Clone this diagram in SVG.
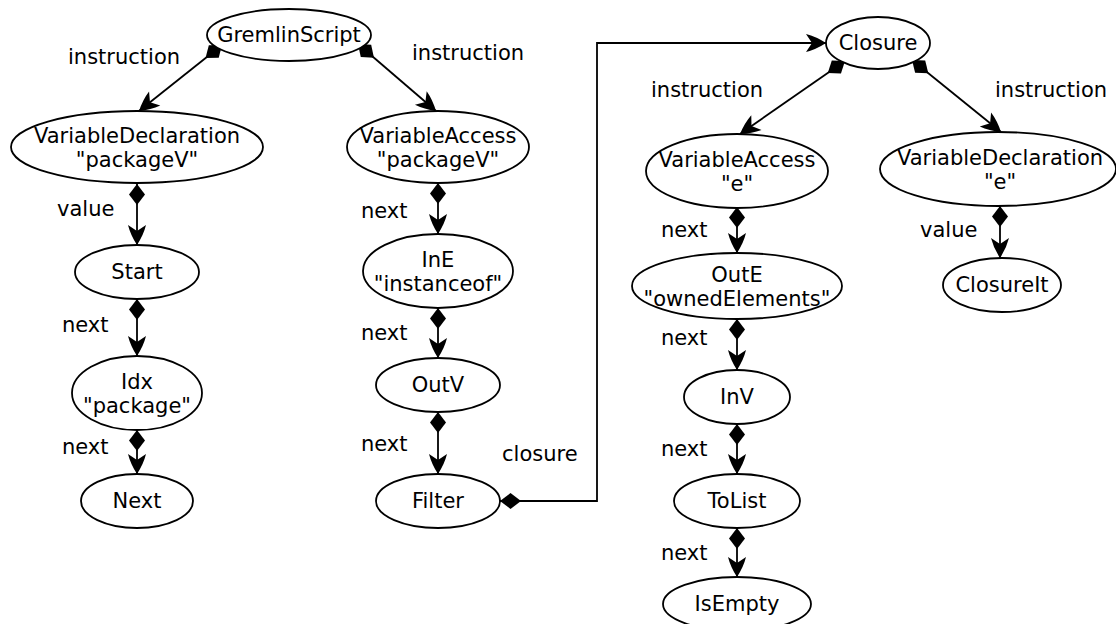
<svg xmlns="http://www.w3.org/2000/svg" width="1116" height="624" viewBox="0 0 1116 624">
<style>
  .node ellipse { fill: #ffffff; stroke: #000000; stroke-width: 1.8; }
  .node text, .lbl { font-family: "DejaVu Sans", Verdana, sans-serif; font-size: 21px; fill: #000000; }
  .node text { text-anchor: middle; }
  .edge { fill: none; stroke: #000000; stroke-width: 1.8; marker-start: url(#diamond); marker-end: url(#arrow); }
</style>
<defs>
  <marker id="arrow" viewBox="-22 -11 23 22" refX="0" refY="0" markerWidth="23" markerHeight="22" markerUnits="userSpaceOnUse" orient="auto">
    <path d="M0,0 Q-10,-6.5 -20,-9 L-14,0 L-20,9 Q-10,6.5 0,0 Z" fill="#000000"/>
  </marker>
  <marker id="diamond" viewBox="-1 -9 24 18" refX="0" refY="0" markerWidth="24" markerHeight="18" markerUnits="userSpaceOnUse" orient="auto">
    <path d="M0,0 L10.5,-8 L21,0 L10.5,8 Z" fill="#000000"/>
  </marker>
</defs>
<rect width="1116" height="624" fill="#ffffff"/>

<g id="connectors">
  <path class="edge" d="M222,45 L139,111"/>
  <path class="edge" d="M358,44 L436,111"/>
  <path class="edge" d="M137,184 L137,245"/>
  <path class="edge" d="M137,299 L137,356"/>
  <path class="edge" d="M137,430 L137,474"/>
  <path class="edge" d="M438,183 L438,234"/>
  <path class="edge" d="M438,308 L438,358"/>
  <path class="edge" d="M438,412 L438,474"/>
  <path class="edge" d="M500,501 L597,501 L597,43 L826,43"/>
  <path class="edge" d="M845,61 L740,134"/>
  <path class="edge" d="M912,60 L1001,132"/>
  <path class="edge" d="M737,207 L737,253"/>
  <path class="edge" d="M1000,206 L1000,258"/>
  <path class="edge" d="M737,319 L737,370"/>
  <path class="edge" d="M737,424 L737,474"/>
  <path class="edge" d="M737,528 L737,577"/>
</g>

<g id="labels">
  <text class="lbl" x="68" y="64">instruction</text>
  <text class="lbl" x="412" y="60">instruction</text>
  <text class="lbl" x="57" y="216">value</text>
  <text class="lbl" x="62" y="332">next</text>
  <text class="lbl" x="62" y="454">next</text>
  <text class="lbl" x="361" y="218">next</text>
  <text class="lbl" x="361" y="340">next</text>
  <text class="lbl" x="361" y="451">next</text>
  <text class="lbl" x="502" y="461">closure</text>
  <text class="lbl" x="651" y="97">instruction</text>
  <text class="lbl" x="995" y="97">instruction</text>
  <text class="lbl" x="661" y="237">next</text>
  <text class="lbl" x="920" y="237">value</text>
  <text class="lbl" x="661" y="345">next</text>
  <text class="lbl" x="661" y="456">next</text>
  <text class="lbl" x="661" y="560">next</text>
</g>

<g id="n-gremlinscript" class="node">
  <ellipse cx="289" cy="35" rx="82" ry="26"/>
  <text x="289" y="42">GremlinScript</text>
</g>
<g id="n-vardecl-packagev" class="node">
  <ellipse cx="137" cy="147" rx="126" ry="36"/>
  <text x="137" y="143">VariableDeclaration</text>
  <text x="137" y="167">"packageV"</text>
</g>
<g id="n-varaccess-packagev" class="node">
  <ellipse cx="438" cy="147" rx="91" ry="36"/>
  <text x="438" y="143">VariableAccess</text>
  <text x="438" y="167">"packageV"</text>
</g>
<g id="n-start" class="node">
  <ellipse cx="137" cy="272" rx="62" ry="27"/>
  <text x="137" y="279">Start</text>
</g>
<g id="n-idx" class="node">
  <ellipse cx="137" cy="393" rx="65" ry="37"/>
  <text x="137" y="389">Idx</text>
  <text x="137" y="413">"package"</text>
</g>
<g id="n-next" class="node">
  <ellipse cx="137" cy="501" rx="56" ry="27"/>
  <text x="137" y="508">Next</text>
</g>
<g id="n-ine" class="node">
  <ellipse cx="438" cy="271" rx="75" ry="37"/>
  <text x="438" y="267">InE</text>
  <text x="438" y="291">"instanceof"</text>
</g>
<g id="n-outv" class="node">
  <ellipse cx="438" cy="385" rx="62" ry="27"/>
  <text x="438" y="392">OutV</text>
</g>
<g id="n-filter" class="node">
  <ellipse cx="438" cy="501" rx="62" ry="27"/>
  <text x="438" y="508">Filter</text>
</g>
<g id="n-closure" class="node">
  <ellipse cx="878" cy="43" rx="52" ry="26"/>
  <text x="878" y="50">Closure</text>
</g>
<g id="n-varaccess-e" class="node">
  <ellipse cx="737" cy="171" rx="91" ry="37"/>
  <text x="737" y="167">VariableAccess</text>
  <text x="737" y="191">"e"</text>
</g>
<g id="n-vardecl-e" class="node">
  <ellipse cx="998" cy="169" rx="118" ry="37"/>
  <text x="1000" y="165">VariableDeclaration</text>
  <text x="1000" y="189">"e"</text>
</g>
<g id="n-oute" class="node">
  <ellipse cx="737" cy="286" rx="105" ry="33"/>
  <text x="737" y="282">OutE</text>
  <text x="737" y="306">"ownedElements"</text>
</g>
<g id="n-closureit" class="node">
  <ellipse cx="1002" cy="285" rx="59" ry="27"/>
  <text x="1002" y="292">ClosureIt</text>
</g>
<g id="n-inv" class="node">
  <ellipse cx="737" cy="397" rx="53" ry="27"/>
  <text x="737" y="404">InV</text>
</g>
<g id="n-tolist" class="node">
  <ellipse cx="737" cy="501" rx="63" ry="27"/>
  <text x="737" y="508">ToList</text>
</g>
<g id="n-isempty" class="node">
  <ellipse cx="737" cy="604" rx="74" ry="27"/>
  <text x="737" y="611">IsEmpty</text>
</g>
</svg>
